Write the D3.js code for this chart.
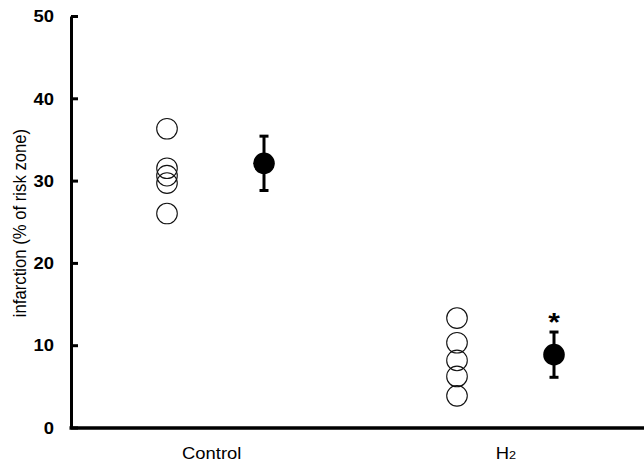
<!DOCTYPE html>
<html><head><meta charset="utf-8">
<script src="https://cdn.jsdelivr.net/npm/d3@7"></script>
<style>body{margin:0;background:#fff}svg{display:block}</style>
</head><body>
<svg id="c" width="644" height="462"></svg>
<script>
const categories = ["Control", "H2"];
const controlValues = [36.3, 31.5, 30.6, 29.7, 26.0];
const h2Values = [13.3, 10.3, 8.15, 6.2, 3.85];
const means = [32.1, 8.85];
const errors = [3.3, 2.75];
const yTicks = [0, 10, 20, 30, 40, 50];
const significant = [false, true];

const FONT = "Liberation Sans, Arial, sans-serif";
const SX = 1.15; // horizontal stretch of text in the reference
const svg = d3.select("#c");
const y = d3.scaleLinear().domain([0, 50]).range([427.5, 16]);
const x = d3.scalePoint().domain(categories).range([211, 501]);
const indivOff = -44, meanOff = 53;
const axisX = 71;

// y axis
const yAxis = d3.axisLeft(y).tickValues(yTicks).tickSize(-7).tickPadding(17).tickSizeOuter(0);
const gy = svg.append("g").attr("transform", `translate(${axisX},0)`).call(yAxis);
gy.select(".domain").attr("stroke", "#000").attr("stroke-width", 3);
gy.selectAll(".tick line").attr("stroke", "#000").attr("stroke-width", 3);
gy.selectAll(".tick text").attr("font-family", FONT)
  .attr("font-size", 16).attr("font-weight", "bold").attr("fill", "#000")
  .attr("x", -17 / SX).attr("dy", "0.36em")
  .attr("transform", `scale(${SX},1)`);

// x axis line
svg.append("line").attr("x1", axisX - 1.5).attr("x2", 644).attr("y1", y(0) + 0.5).attr("y2", y(0) + 0.5)
  .attr("stroke", "#000").attr("stroke-width", 3.5);

// x labels
categories.forEach(c => {
  const isH2 = c === "H2";
  const t = svg.append("text")
    .attr("transform", `translate(${x(c) + (isH2 ? 5 : 0.7)},458.5) scale(${SX},1)`)
    .attr("text-anchor", "middle")
    .attr("font-family", FONT).attr("font-size", 16).attr("fill", "#000");
  if (isH2) {
    t.append("tspan").text("H");
    t.append("tspan").text("2").attr("font-size", 11);
  } else t.text(c);
});

// y label
svg.append("text").attr("transform", `translate(26,223) scale(${SX},1) rotate(-90)`).attr("text-anchor", "middle")
  .attr("font-family", FONT).attr("font-size", 16.7).attr("fill", "#000")
  .text("infarction (% of risk zone)");

// individual points
const groups = [controlValues, h2Values];
groups.forEach((vals, i) => {
  svg.selectAll(null).data(vals).enter().append("circle")
    .attr("cx", x(categories[i]) + indivOff).attr("cy", d => y(d)).attr("r", 10.3)
    .attr("fill", "none").attr("stroke", "#111").attr("stroke-width", 1.1);
});

// means with error bars
means.forEach((m, i) => {
  const cx = x(categories[i]) + meanOff;
  const g = svg.append("g");
  g.append("line").attr("x1", cx).attr("x2", cx).attr("y1", y(m + errors[i])).attr("y2", y(m - errors[i]))
    .attr("stroke", "#000").attr("stroke-width", 3);
  [m + errors[i], m - errors[i]].forEach(v => {
    g.append("line").attr("x1", cx - 4.5).attr("x2", cx + 4.5).attr("y1", y(v)).attr("y2", y(v))
      .attr("stroke", "#000").attr("stroke-width", 3);
  });
  g.append("circle").attr("cx", cx).attr("cy", y(m)).attr("r", 10.8).attr("fill", "#000");
  if (significant[i]) {
    svg.append("text").attr("transform", `translate(${cx},${y(m + errors[i]) - 1.5}) scale(${SX},1)`)
      .attr("text-anchor", "middle")
      .attr("font-family", FONT).attr("font-size", 26).attr("font-weight", "bold").attr("fill", "#000")
      .text("*");
  }
});
</script>
</body></html>
